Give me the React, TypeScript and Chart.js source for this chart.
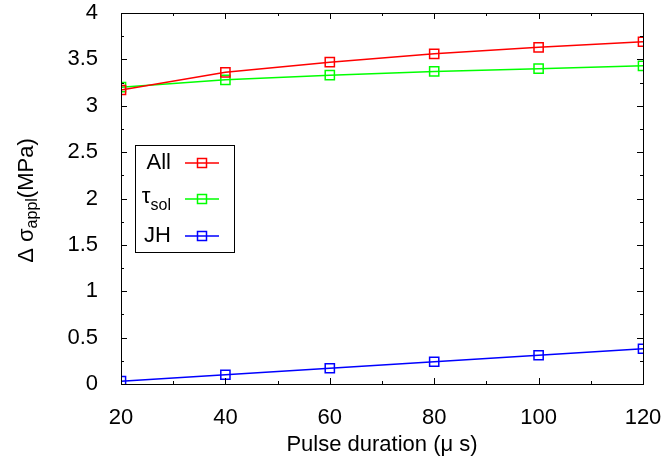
import React, { useEffect, useRef } from "react";
import { Chart, registerables } from "chart.js";

Chart.register(...registerables);

const pulseDurations = [20, 40, 60, 80, 100, 120];
const allValues = [3.17, 3.36, 3.47, 3.56, 3.63, 3.69];
const tauSolValues = [3.2, 3.28, 3.33, 3.37, 3.4, 3.43];
const jhValues = [0.03, 0.1, 0.17, 0.24, 0.31, 0.38];
const xTickStep = 20;
const yTickStep = 0.5;
const xMinorStep = 10;
const yMinorStep = 0.25;

const FONT = "'Liberation Sans', Arial, sans-serif";
const FS = 22;

const framePlugin = {
  id: "frameTicks",
  afterDraw(chart: any) {
    const { ctx, chartArea } = chart;
    const xs = chart.scales.x;
    const ys = chart.scales.y;
    const { left, right, top, bottom } = chartArea;
    ctx.save();
    ctx.strokeStyle = "#000";
    ctx.lineWidth = 1;
    ctx.beginPath();
    for (let v = xs.min; v <= xs.max + 1e-9; v += xMinorStep) {
      const px = Math.round(xs.getPixelForValue(v)) + 0.5;
      const major = Math.abs(v / xTickStep - Math.round(v / xTickStep)) < 1e-6;
      const len = major ? 6 : 3;
      ctx.moveTo(px, bottom);
      ctx.lineTo(px, bottom - len);
      ctx.moveTo(px, top);
      ctx.lineTo(px, top + len);
    }
    for (let v = ys.min; v <= ys.max + 1e-9; v += yMinorStep) {
      const py = Math.round(ys.getPixelForValue(v)) + 0.5;
      const major = Math.abs(v / yTickStep - Math.round(v / yTickStep)) < 1e-6;
      const len = major ? 6 : 3;
      ctx.moveTo(left, py);
      ctx.lineTo(left + len, py);
      ctx.moveTo(right, py);
      ctx.lineTo(right - len, py);
    }
    ctx.stroke();
    ctx.strokeRect(Math.round(left) + 0.5, Math.round(top) + 0.5, Math.round(right - left), Math.round(bottom - top));

    // y title
    ctx.fillStyle = "#000";
    ctx.textBaseline = "middle";
    ctx.textAlign = "left";
    const big = `${FS}px ${FONT}`;
    const small = `${FS - 6}px ${FONT}`;
    ctx.font = big;
    const p1 = "Δ σ";
    const w1 = ctx.measureText(p1).width;
    ctx.font = small;
    const p2 = "appl";
    const w2 = ctx.measureText(p2).width;
    ctx.font = big;
    const p3 = "(MPa)";
    const w3 = ctx.measureText(p3).width;
    const total = w1 + w2 + w3;
    ctx.translate(27, (top + bottom) / 2 + 2);
    ctx.rotate(-Math.PI / 2);
    let cx = -total / 2;
    ctx.font = big;
    ctx.fillText(p1, cx, 0);
    cx += w1;
    ctx.font = small;
    ctx.fillText(p2, cx, 6);
    cx += w2;
    ctx.font = big;
    ctx.fillText(p3, cx, 0);
    ctx.setTransform(1, 0, 0, 1, 0, 0);

    // legend
    const bx = 135, by = 145, bw = 99, bh = 107;
    ctx.lineWidth = 1;
    ctx.strokeRect(bx + 0.5, by + 0.5, bw, bh);
    const rows = [
      { label: "All", sub: "", color: "#ff0000", y: 163 },
      { label: "τ", sub: "sol", color: "#00ff00", y: 199 },
      { label: "JH", sub: "", color: "#0000ff", y: 236 },
    ];
    const textRight = 171;
    for (const r of rows) {
      ctx.fillStyle = "#000";
      ctx.textBaseline = "middle";
      if (r.sub) {
        ctx.font = small;
        ctx.textAlign = "right";
        ctx.fillText(r.sub, textRight, r.y + 7);
        const sw = ctx.measureText(r.sub).width;
        ctx.font = big;
        ctx.fillText(r.label, textRight - sw, r.y - 2);
      } else {
        ctx.font = big;
        ctx.textAlign = "right";
        ctx.fillText(r.label, textRight, r.y);
      }
      ctx.strokeStyle = r.color;
      ctx.lineWidth = 1.5;
      ctx.beginPath();
      ctx.moveTo(185, r.y);
      ctx.lineTo(219, r.y);
      ctx.stroke();
      ctx.strokeRect(197.5, r.y - 4.5, 9, 9);
    }
    ctx.restore();
  },
};

export default function App() {
  const ref = useRef<HTMLCanvasElement>(null);
  useEffect(() => {
    if (!ref.current) return;
    const mk = (label: string, data: number[], color: string) => ({
      label,
      data: data.map((v, i) => ({ x: pulseDurations[i], y: v })),
      borderColor: color,
      backgroundColor: "rgba(0,0,0,0)",
      borderWidth: 1.5,
      pointStyle: "rect" as const,
      pointRadius: 6.5,
      pointBorderWidth: 1.5,
      pointBackgroundColor: "rgba(0,0,0,0)",
      pointBorderColor: color,
      tension: 0,
    });
    const chart = new Chart(ref.current, {
      type: "line",
      data: {
        datasets: [
          mk("All", allValues, "#ff0000"),
          mk("τsol", tauSolValues, "#00ff00"),
          mk("JH", jhValues, "#0000ff"),
        ],
      },
      options: {
        animation: false,
        responsive: false,
        devicePixelRatio: 1,
        layout: { padding: { left: 0, top: 13, right: 24, bottom: 0 } },
        plugins: { legend: { display: false }, tooltip: { enabled: false } },
        scales: {
          x: {
            type: "linear",
            min: 20,
            max: 120,
            grid: { display: false },
            border: { display: false },
            ticks: { stepSize: xTickStep, color: "#000", font: { family: FONT, size: FS }, padding: 13, maxRotation: 0 },
            title: { display: true, text: "Pulse duration (μ s)", color: "#000", font: { family: FONT, size: FS }, padding: { top: 0, bottom: 3 } },
            afterFit: (s: any) => { s.height = 77; s.paddingLeft = 0; s.paddingRight = 0; },
          },
          y: {
            type: "linear",
            min: 0,
            max: 4,
            grid: { display: false },
            border: { display: false },
            ticks: {
              stepSize: yTickStep,
              color: "#000",
              font: { family: FONT, size: FS },
              padding: 15,
              callback: (v: any) => String(Number(v)),
            },
            afterFit: (s: any) => { s.width = 121; s.paddingTop = 0; s.paddingBottom = 0; },
          },
        },
      },
      plugins: [framePlugin],
    });
    return () => chart.destroy();
  }, []);
  return (
    <div style={{ position: "absolute", left: 0, top: 0, width: 667, height: 461, background: "#fff" }}>
      <canvas ref={ref} width={667} height={461} />
    </div>
  );
}
